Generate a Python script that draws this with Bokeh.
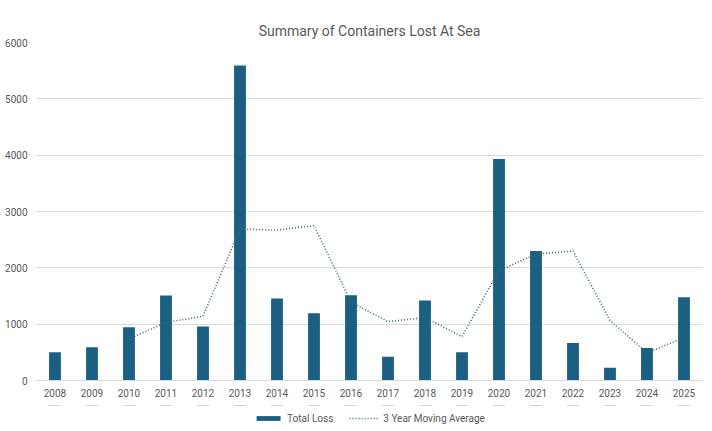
from bokeh.plotting import figure
from bokeh.models import Range1d, Legend, LegendItem
from bokeh.layouts import column
from bokeh.embed import file_html
from bokeh.resources import INLINE

years = [str(y) for y in range(2008, 2026)]
total_loss = [500, 590, 945, 1510, 960, 5590, 1455, 1195, 1515, 420, 1420, 500, 3930, 2300, 665, 225, 575, 1480]
ma_years = [str(y) for y in range(2010, 2026)]
moving_avg = [740, 1030, 1140, 2690, 2670, 2750, 1390, 1045, 1120, 780, 1950, 2245, 2300, 1065, 490, 760]
series_names = ["Total Loss", "3 Year Moving Average"]

BAR = "#1B5F82"
LINE = "#3D6A78"
GREY = "#595959"
FONT = "Roboto"

p = figure(frame_width=666, frame_height=338, x_range=years, y_range=Range1d(0, 6000),
           output_backend="svg", toolbar_location=None,
           min_border_left=36, min_border_right=10, min_border_top=42, min_border_bottom=25)

p.vbar(x=years, top=total_loss, width=0.32, color=BAR, line_color=None)
p.line(x=ma_years, y=moving_avg, line_color=LINE, line_width=1.6, line_dash="1 2")

p.title.text = "Summary of Containers Lost At Sea"
p.title.align = "center"
p.title.text_font = FONT
p.title.text_font_size = "14px"
p.title.text_font_style = "normal"
p.title.text_color = GREY
p.title.offset = 0
p.title.standoff = 8

p.outline_line_color = None
p.xgrid.grid_line_color = None
p.ygrid.grid_line_color = "#D9D9D9"
p.yaxis.ticker = [0, 1000, 2000, 3000, 4000, 5000, 6000]

for ax in (p.xaxis, p.yaxis):
    ax.axis_line_color = None
    ax.major_tick_line_color = None
    ax.minor_tick_line_color = None
    ax.major_tick_out = 0
    ax.major_tick_in = 0
    ax.major_label_text_font = FONT
    ax.major_label_text_font_size = "10px"
    ax.major_label_text_color = GREY
p.xaxis.axis_line_color = "#D9D9D9"
p.yaxis.major_label_standoff = 9
p.xaxis.major_label_standoff = 8

# legend strip below the chart (same series, drawn far outside its visible range)
lf = figure(width=712, height=26, x_range=years, y_range=Range1d(-1000, -999),
            output_backend="svg", toolbar_location=None,
            x_axis_location=None, y_axis_location=None, min_border=0)
lf.grid.grid_line_color = None
lf.outline_line_color = None
lb = lf.vbar(x=years, top=total_loss, width=0.32, color=BAR, line_color=None)
ll = lf.line(x=ma_years, y=moving_avg, line_color=LINE, line_width=1.6, line_dash="1 2")
legend = Legend(items=[LegendItem(label=series_names[0], renderers=[lb]),
                       LegendItem(label=series_names[1], renderers=[ll])],
                orientation="horizontal", location="center",
                label_text_font=FONT, label_text_font_size="10px", label_text_color=GREY,
                glyph_width=30, glyph_height=6, label_height=12, spacing=16, label_standoff=4,
                border_line_color=None, background_fill_alpha=0,
                padding=1, margin=0)
lf.add_layout(legend, "center")

layout = column(p, lf, spacing=0)
open("out.html", "w").write(file_html(layout, INLINE))
